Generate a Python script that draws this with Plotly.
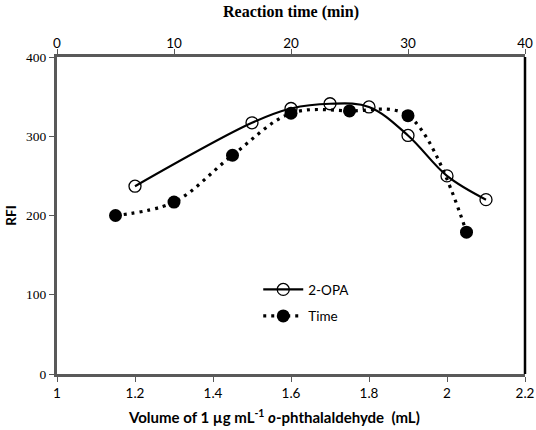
import plotly.graph_objects as go

opa_volume = [1.2, 1.5, 1.6, 1.7, 1.8, 1.9, 2.0, 2.1]
opa_rfi = [237, 317, 335, 341, 337, 301, 250, 220]

time_min = [5, 10, 15, 20, 25, 30, 35]
time_rfi = [200, 217, 276, 329, 332, 326, 179]

x_ticks = [1, 1.2, 1.4, 1.6, 1.8, 2, 2.2]
x_ticklabels = ["1", "1.2", "1.4", "1.6", "1.8", "2", "2.2"]
x2_ticks = [0, 10, 20, 30, 40]
y_ticks = [0, 100, 200, 300, 400]

x_title = "<b>Volume of 1 µg mL<sup>-1</sup> <i>o</i>-phthalaldehyde  (mL)</b>"

fig = go.Figure()
fig.add_trace(go.Scatter(
    x=opa_volume, y=opa_rfi, name="2-OPA", mode="lines+markers", legendgroup="a",
    line=dict(color="black", width=2.2, shape="spline", smoothing=1),
    marker=dict(symbol="circle-open", size=12, color="black", line=dict(width=1.3, color="black")),
    xaxis="x", yaxis="y",
))
fig.add_trace(go.Scatter(
    x=time_min, y=time_rfi, name="Time", mode="lines+markers", legendgroup="b",
    line=dict(color="black", width=3.2, dash="3px,5px", shape="spline", smoothing=1),
    marker=dict(symbol="circle", size=13, color="black"),
    xaxis="x2", yaxis="y",
))

sans = "Lato, Carlito, 'Liberation Sans', sans-serif"
serif = "'Liberation Serif', 'Times New Roman', serif"

fig.update_layout(
    width=536, height=430,
    margin=dict(l=57, r=11, t=57, b=56),
    paper_bgcolor="white", plot_bgcolor="white",
    showlegend=True,
    legend=dict(x=0.43, y=0.315, xanchor="left", yanchor="top",
                bgcolor="rgba(0,0,0,0)", font=dict(family=sans, size=13.5, color="black"),
                tracegroupgap=6, itemwidth=40),
    xaxis=dict(
        range=[1, 2.2], tickvals=x_ticks, ticktext=x_ticklabels, automargin=False,
        showgrid=False, zeroline=False, showline=True, linecolor="#595959", linewidth=3,
        ticks="outside", ticklen=5, tickwidth=1, tickcolor="#595959",
        tickfont=dict(family=sans, size=13.5, color="black"), ticklabeloverflow="allow",
    ),
    xaxis2=dict(
        range=[0, 40], tickvals=x2_ticks, overlaying="x", side="top", anchor="y", automargin=False,
        showgrid=False, zeroline=False, showline=True, linecolor="#595959", linewidth=3,
        ticks="outside", ticklen=5, tickwidth=1, tickcolor="#595959",
        tickfont=dict(family=sans, size=13.5, color="black"), ticklabeloverflow="allow",
        ticklabelstandoff=-4,
        title=dict(text="<b>Reaction time (min)</b>",
                   font=dict(family=serif, size=16, color="black"), standoff=13),
    ),
    yaxis=dict(
        range=[0, 400], tickvals=y_ticks, automargin=False,
        showgrid=False, zeroline=False, showline=True, linecolor="#595959", linewidth=3,
        ticks="outside", ticklen=5, tickwidth=1, tickcolor="#595959",
        tickfont=dict(family=serif, size=13.5, color="black"),
        title=dict(text="<b>RFI</b>", font=dict(family=sans, size=13.5, color="black"), standoff=7),
    ),
    annotations=[dict(text=x_title, xref="paper", yref="paper", x=0.4637, y=-0.1356,
                      xanchor="center", yanchor="middle", showarrow=False,
                      font=dict(family=sans, size=15, color="black"))],
    shapes=[dict(type="line", xref="paper", yref="paper", x0=1, x1=1, y0=0, y1=1,
                 line=dict(color="black", width=2.5))],
)

fig.write_html(
    "out.html",
    config={"displayModeBar": False},
    post_script="document.body.style.margin='0';document.body.style.overflow='hidden';"
                "document.documentElement.style.overflow='hidden';",
)
